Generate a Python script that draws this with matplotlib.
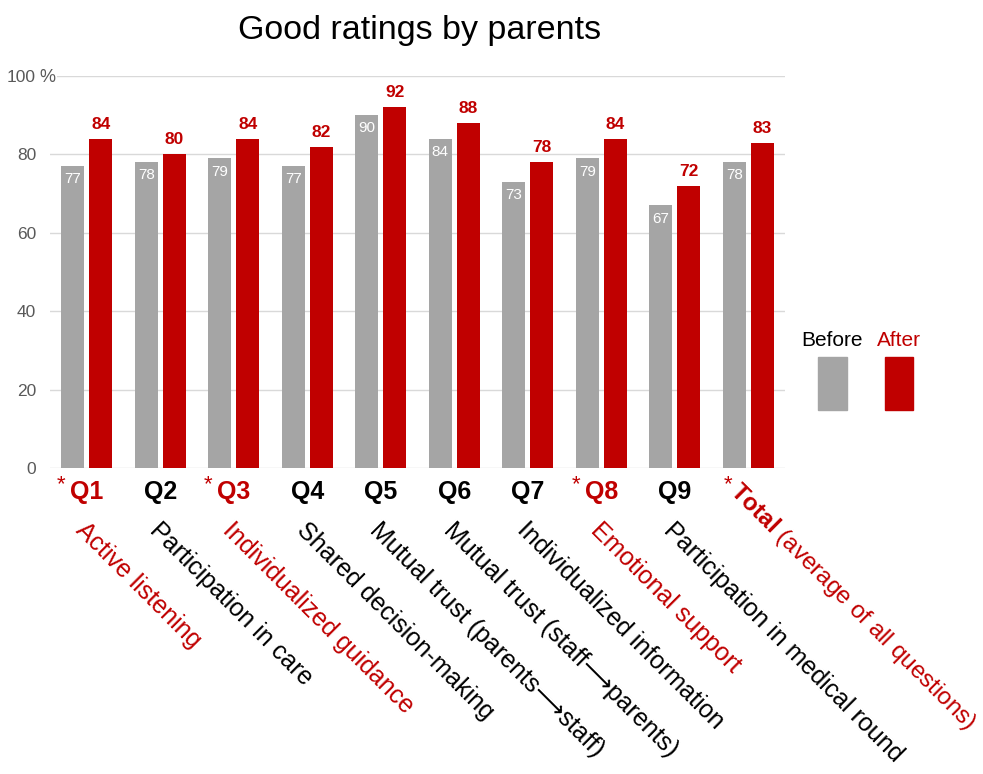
import matplotlib
matplotlib.use("Agg")
import numpy as np
import matplotlib.pyplot as plt
from matplotlib.patches import Rectangle

plt.rcParams['font.family'] = ['Liberation Sans', 'DejaVu Sans']
plt.rcParams['mathtext.fontset'] = 'custom'
plt.rcParams['mathtext.rm'] = 'Liberation Sans'
plt.rcParams['mathtext.bf'] = 'Liberation Sans:bold'

# ---------------------------------
# Data
# ---------------------------------
questions = ["Q1", "Q2", "Q3", "Q4", "Q5", "Q6", "Q7", "Q8", "Q9", "Total"]
descriptions = [
    "Active listening",
    "Participation in care",
    "Individualized guidance",
    "Shared decision-making",
    "Mutual trust (parents\u27F6staff)",
    "Mutual trust (staff\u27F6parents)",
    "Individualized information",
    "Emotional support",
    "Participation in medical round",
    r"$\mathbf{Total}$ (average of all questions)",
]
significant = [True, False, True, False, False, False, False, True, False, True]
before = [77, 78, 79, 77, 90, 84, 73, 79, 67, 78]
after = [84, 80, 84, 82, 92, 88, 78, 84, 72, 83]

GREY = "#a5a5a5"
RED = "#c00000"
TICK_GREY = "#595959"

# ---------------------------------
# Figure and axes
# ---------------------------------
W, H = 983, 774
fig = plt.figure(figsize=(W / 100, H / 100), dpi=100)
ax = fig.add_axes([50 / W, 1 - 468 / H, 735 / W, 392 / H])

x = np.arange(len(questions))
off = 0.19
bw = 0.31
ax.bar(x - off, before, width=bw, color=GREY, zorder=2)
ax.bar(x + off, after, width=bw, color=RED, zorder=2)

ax.set_xlim(-0.5, len(questions) - 0.5)
ax.set_ylim(0, 100)
ax.set_yticks([0, 20, 40, 60, 80, 100])
ax.set_yticklabels(["0", "20", "40", "60", "80", "100"])
ax.tick_params(axis='y', length=0, pad=10, labelsize=12.5, labelcolor=TICK_GREY)
ax.set_xticks([])
for s in ax.spines.values():
    s.set_visible(False)
for yv in [0, 20, 40, 60, 80, 100]:
    ax.axhline(yv, color="#d9d9d9", lw=1, zorder=1)

# percent sign after the top tick
ax.annotate("%", xy=(0, 100), xycoords=('axes fraction', 'data'),
            xytext=(-7.5, 0), textcoords='offset points',
            ha='left', va='center_baseline', fontsize=13, color=TICK_GREY,
            bbox=dict(facecolor='white', edgecolor='none', pad=1))

# ---------------------------------
# Value labels
# ---------------------------------
for i in range(len(x)):
    ax.annotate(f"{before[i]}", xy=(x[i] - off, before[i]),
                xytext=(0, -4.5), textcoords='offset points',
                ha='center', va='top', fontsize=11, color='white', zorder=3)
    ax.annotate(f"{after[i]}", xy=(x[i] + off, after[i]),
                xytext=(0, 5), textcoords='offset points',
                ha='center', va='bottom', fontsize=12.5, fontweight='bold',
                color=RED, zorder=3)

# ---------------------------------
# Category labels
# ---------------------------------
for i, q in enumerate(questions):
    col = RED if significant[i] else 'black'
    if significant[i]:
        ax.annotate("*", xy=(x[i], 0), xycoords=('data', 'axes fraction'),
                    xytext=(-18.5 if q != "Total" else -14.5, -16),
                    textcoords='offset points', ha='center', va='baseline',
                    fontsize=16, color=RED)
    if q != "Total":
        ax.annotate(q, xy=(x[i], 0), xycoords=('data', 'axes fraction'),
                    xytext=(0, -17.5), textcoords='offset points',
                    ha='center', va='center', fontsize=18, fontweight='bold',
                    color=col)
        ax.annotate(descriptions[i], xy=(x[i], 0),
                    xycoords=('data', 'axes fraction'),
                    xytext=(1, -36), textcoords='offset points',
                    ha='left', va='top', rotation=-45, rotation_mode='anchor',
                    fontsize=18, color=col)
    else:
        ax.annotate(descriptions[i], xy=(x[i], 0),
                    xycoords=('data', 'axes fraction'),
                    xytext=(-4, -7), textcoords='offset points',
                    ha='left', va='top', rotation=-45, rotation_mode='anchor',
                    fontsize=17.5, color=col)

# ---------------------------------
# Title and legend
# ---------------------------------
fig.text(420 / W, 1 - 31 / H, "Good ratings by parents", ha='center',
         va='center', fontsize=24.5)

fig.text(832 / W, 1 - 341 / H, "Before", ha='center', va='center',
         fontsize=15, color='black')
fig.text(899 / W, 1 - 341 / H, "After", ha='center', va='center',
         fontsize=15, color=RED)
fig.patches.append(Rectangle((818 / W, 1 - 410 / H), 29 / W, 53 / H,
                             transform=fig.transFigure, color=GREY))
fig.patches.append(Rectangle((885 / W, 1 - 410 / H), 28 / W, 53 / H,
                             transform=fig.transFigure, color=RED))

fig.savefig("out.png", dpi=100, facecolor='white')
